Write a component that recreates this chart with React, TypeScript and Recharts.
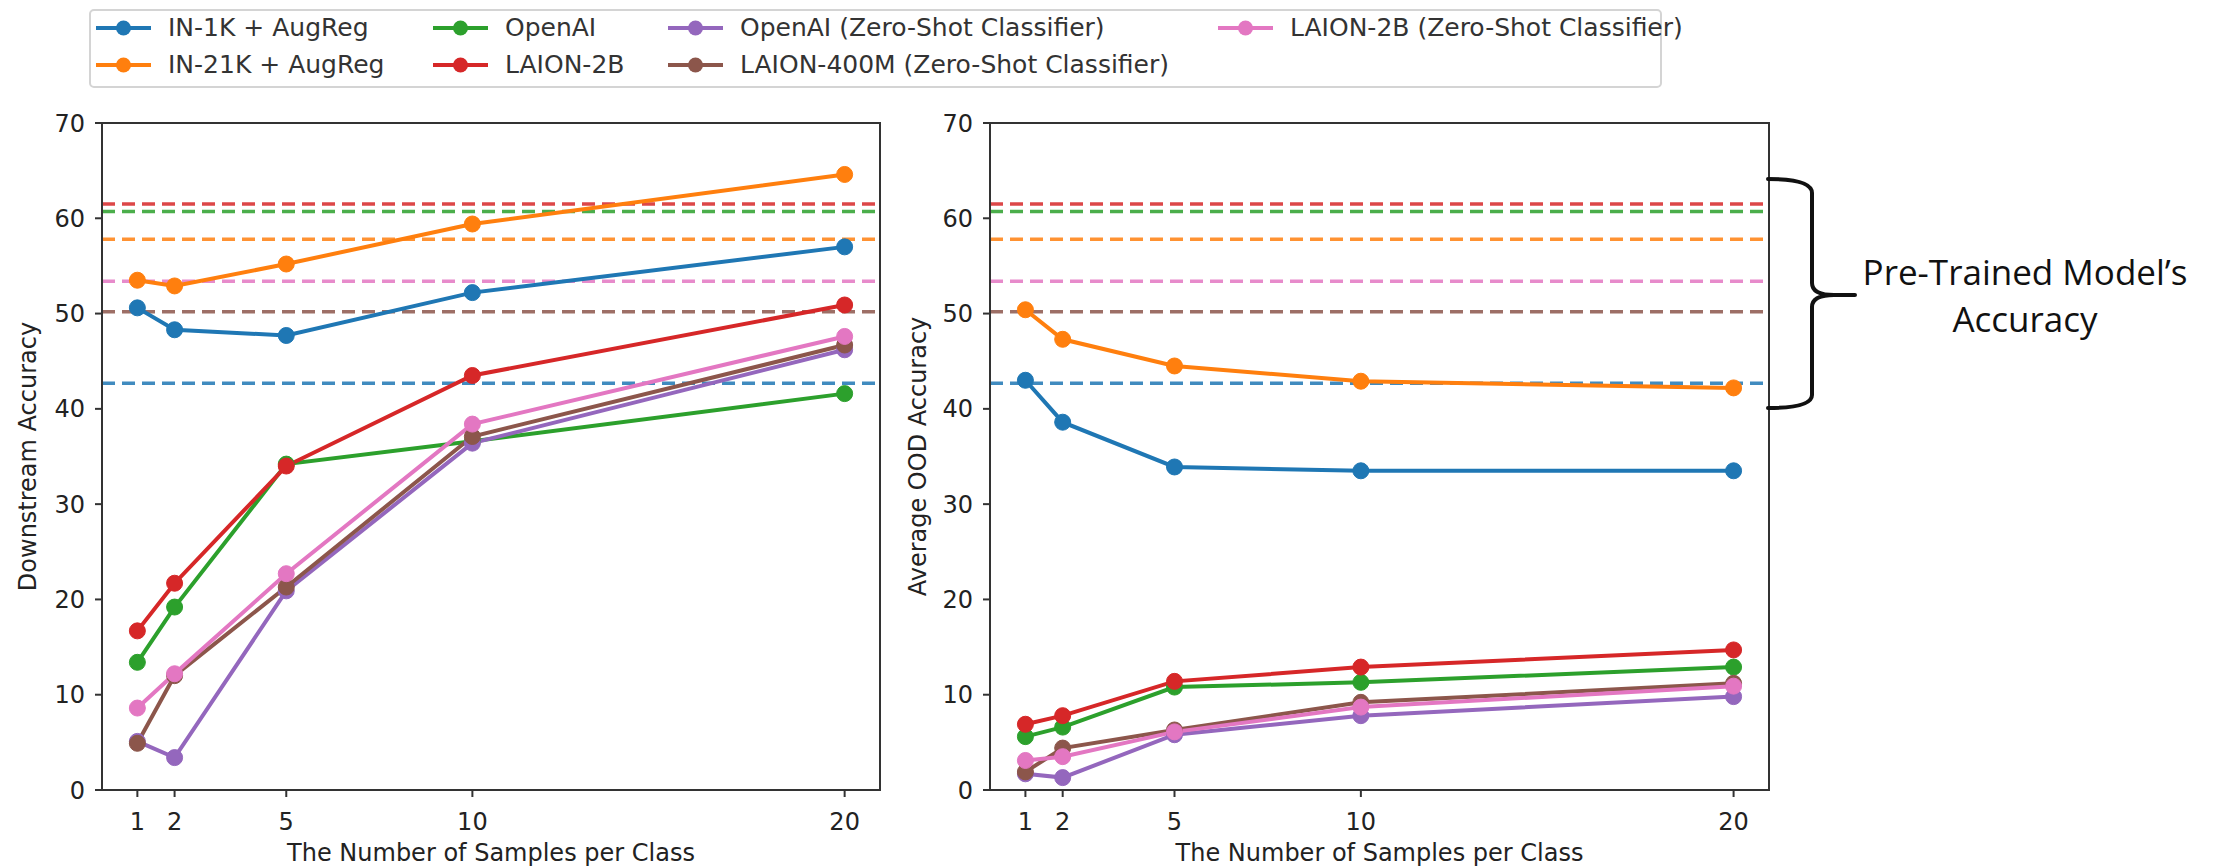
import React from 'react';
import { LineChart, Line, XAxis, YAxis, ReferenceLine, ReferenceArea } from 'recharts';

const SAMPLES = [1, 2, 5, 10, 20];
const Y_TICKS = [0, 10, 20, 30, 40, 50, 60, 70];

const SERIES_KEYS = ['in1k', 'in21k', 'openai', 'laion2b', 'openaiZs', 'laion400mZs', 'laion2bZs'];
const SERIES_NAMES = [
  'IN-1K + AugReg',
  'IN-21K + AugReg',
  'OpenAI',
  'LAION-2B',
  'OpenAI (Zero-Shot Classifier)',
  'LAION-400M (Zero-Shot Classifier)',
  'LAION-2B (Zero-Shot Classifier)',
];
const COLORS = ['#1f77b4', '#ff7f0e', '#2ca02c', '#d62728', '#9467bd', '#8c564b', '#e377c2'];

// downstream accuracy (left panel)
const DS_IN1K = [50.6, 48.3, 47.7, 52.2, 57.0];
const DS_IN21K = [53.5, 52.9, 55.2, 59.4, 64.6];
const DS_OPENAI = [13.4, 19.2, 34.2, 36.6, 41.6];
const DS_LAION2B = [16.7, 21.7, 34.0, 43.5, 50.9];
const DS_OPENAI_ZS = [5.1, 3.4, 20.9, 36.4, 46.2];
const DS_LAION400M_ZS = [4.9, 12.0, 21.3, 37.1, 46.7];
const DS_LAION2B_ZS = [8.6, 12.2, 22.7, 38.4, 47.6];

// average OOD accuracy (right panel)
const OOD_IN1K = [43.0, 38.6, 33.9, 33.5, 33.5];
const OOD_IN21K = [50.4, 47.3, 44.5, 42.9, 42.2];
const OOD_OPENAI = [5.6, 6.6, 10.8, 11.3, 12.9];
const OOD_LAION2B = [6.9, 7.8, 11.4, 12.9, 14.7];
const OOD_OPENAI_ZS = [1.7, 1.3, 5.8, 7.8, 9.8];
const OOD_LAION400M_ZS = [1.9, 4.4, 6.3, 9.2, 11.2];
const OOD_LAION2B_ZS = [3.1, 3.5, 6.1, 8.7, 10.9];

// pre-trained model accuracy (dashed lines), same index as SERIES_KEYS
const PRETRAINED = [42.7, 57.8, 60.7, 61.5, null, 50.2, 53.4];

const FONT = '"DejaVu Sans", sans-serif';
const INK = '#222';

const buildRows = (cols: number[][]) =>
  SAMPLES.map((s, i) => {
    const row: Record<string, number> = { samples: s };
    SERIES_KEYS.forEach((k, j) => {
      row[k] = cols[j][i];
    });
    return row;
  });

const dsRows = buildRows([DS_IN1K, DS_IN21K, DS_OPENAI, DS_LAION2B, DS_OPENAI_ZS, DS_LAION400M_ZS, DS_LAION2B_ZS]);
const oodRows = buildRows([OOD_IN1K, OOD_IN21K, OOD_OPENAI, OOD_LAION2B, OOD_OPENAI_ZS, OOD_LAION400M_ZS, OOD_LAION2B_ZS]);

const YLabel = ({ viewBox, value, cx }: any) => {
  const x = viewBox.x + cx;
  const y = viewBox.y + viewBox.height / 2;
  return (
    <text x={x} y={y} transform={`rotate(-90, ${x}, ${y})`} textAnchor="middle" dominantBaseline="central"
      fontSize={24} fontFamily={FONT} fill={INK}>
      {value}
    </text>
  );
};

const XLabel = ({ viewBox, value }: any) => (
  <text x={viewBox.x + viewBox.width / 2} y={viewBox.y + 71} textAnchor="middle"
    fontSize={24} fontFamily={FONT} fill={INK}>
    {value}
  </text>
);

interface PanelProps {
  rows: Record<string, number>[];
  yLabel: string;
  left: number;
  width: number;
  axisWidth: number;
  labelX: number;
  rightMargin: number;
}

const Panel: React.FC<PanelProps> = ({ rows, yLabel, left, width, axisWidth, labelX, rightMargin }) => (
  <div style={{ position: 'absolute', left, top: 0 }}>
    <LineChart width={width} height={868} data={rows} margin={{ top: 123, right: rightMargin, bottom: 0, left: 0 }}>
      <XAxis dataKey="samples" type="number" domain={[0.05, 20.95]} ticks={SAMPLES} height={78}
        tickSize={7} tickMargin={16} interval={0}
        tick={{ fontSize: 24, fontFamily: FONT, fill: INK }}
        tickLine={{ stroke: '#333', strokeWidth: 2 }} axisLine={{ stroke: '#333', strokeWidth: 2 }}
        label={<XLabel value="The Number of Samples per Class" />} />
      <YAxis type="number" domain={[0, 70]} ticks={Y_TICKS} width={axisWidth} interval={0}
        tickSize={7} tickMargin={10}
        tick={{ fontSize: 24, fontFamily: FONT, fill: INK }}
        tickLine={{ stroke: '#333', strokeWidth: 2 }} axisLine={{ stroke: '#333', strokeWidth: 2 }}
        label={<YLabel value={yLabel} cx={labelX} />} />
      <ReferenceArea x1={0.05} x2={20.95} y1={0} y2={70} fill="none" stroke="#333" strokeWidth={2} ifOverflow="visible" />
      {PRETRAINED.map((v, i) =>
        v === null ? null : (
          <ReferenceLine key={`pre-${i}`} y={v} stroke={COLORS[i]} strokeOpacity={0.85}
            strokeWidth={3.5} strokeDasharray="13 7" />
        )
      )}
      {SERIES_KEYS.map((k, i) => (
        <Line key={k} type="linear" dataKey={k} name={SERIES_NAMES[i]} stroke={COLORS[i]} strokeWidth={4}
          dot={{ r: 8, fill: COLORS[i], stroke: COLORS[i], strokeWidth: 1 }} activeDot={false}
          isAnimationActive={false} />
      ))}
    </LineChart>
  </div>
);

// legend: matplotlib fills columns first (2 rows)
const LEGEND_COL_X = [96, 433, 668, 1218];
const LEGEND_ROW_Y = [28, 65];

const Legend4: React.FC = () => (
  <>
    <div style={{ position: 'absolute', left: 89, top: 9, width: 1573, height: 79, border: '2px solid #d4d4d4',
      borderRadius: 5, boxSizing: 'border-box', background: '#fff' }} />
    {SERIES_NAMES.map((name, i) => {
      const col = Math.floor(i / 2);
      const row = i % 2;
      const x = LEGEND_COL_X[col];
      const y = LEGEND_ROW_Y[row];
      return (
        <div key={name} style={{ position: 'absolute', left: x, top: y - 15, height: 30, display: 'flex', alignItems: 'center' }}>
          <svg width={56} height={30} style={{ display: 'block' }}>
            <line x1={0} y1={15} x2={55} y2={15} stroke={COLORS[i]} strokeWidth={4} />
            <circle cx={27.5} cy={15} r={7.5} fill={COLORS[i]} />
          </svg>
          <span style={{ marginLeft: 16, fontFamily: FONT, fontSize: 25, color: '#333', whiteSpace: 'nowrap', lineHeight: '30px' }}>
            {name}
          </span>
        </div>
      );
    })}
  </>
);

const App: React.FC = () => (
  <div style={{ position: 'absolute', left: 0, top: 0, width: 2216, height: 868, background: '#fff', overflow: 'hidden' }}>
    <Panel rows={dsRows} yLabel="Downstream Accuracy" left={0} width={882} axisWidth={102} labelX={28} rightMargin={2} />
    <Panel rows={oodRows} yLabel="Average OOD Accuracy" left={880} width={900} axisWidth={110} labelX={38} rightMargin={11} />
    <Legend4 />
    <svg width={2216} height={868} style={{ position: 'absolute', left: 0, top: 0, pointerEvents: 'none' }}>
      <path d="M1768,179 Q1812,179 1812,193 L1812,283 Q1812,295 1834,295 L1855,295 M1834,295 Q1812,295 1812,307 L1812,395 Q1812,408 1768,408"
        fill="none" stroke="#111" strokeWidth={4} strokeLinecap="round" />
      <text x={2025} y={285} textAnchor="middle" fontFamily='"Open Sans", "Noto Sans", sans-serif' fontSize={35} fill="#111">
        Pre-Trained Model’s
      </text>
      <text x={2025} y={332} textAnchor="middle" fontFamily='"Open Sans", "Noto Sans", sans-serif' fontSize={35} fill="#111">
        Accuracy
      </text>
    </svg>
  </div>
);

export default App;
